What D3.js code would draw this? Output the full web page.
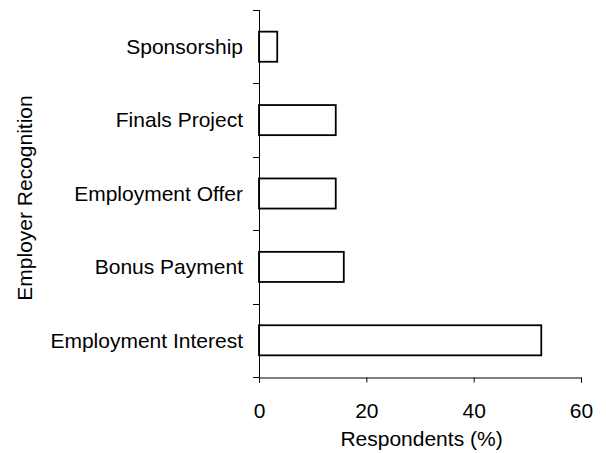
<!DOCTYPE html>
<html><head><meta charset="utf-8">
<script src="https://cdn.jsdelivr.net/npm/d3@7"></script>
<style>body{margin:0;background:#fff}svg{display:block}text{font-family:"Liberation Sans",Arial,sans-serif;fill:#000}</style>
</head><body>
<script>
const categories = ["Sponsorship","Finals Project","Employment Offer","Bonus Payment","Employment Interest"];
const values = [3.4, 14.3, 14.3, 15.8, 52.6];
const xTicks = [0, 20, 40, 60];

(function () {
const W = 606, H = 453;
const mLeft = 259, mRight = 581, mTop = 10, mBottom = 377;
const FS = 21;
const svg = d3.select("body").append("svg").attr("width", W).attr("height", H);

const x = d3.scaleLinear().domain([0, 60]).range([mLeft, mRight]);
const y = d3.scaleBand().domain(categories).range([mTop, mBottom]).paddingInner(0.59).paddingOuter(0.295);
const yb = d3.scaleBand().domain(categories).range([mTop, mBottom]);

// bars
svg.append("g").selectAll("rect").data(categories).join("rect")
  .attr("x", x(0)).attr("y", (d) => y(d))
  .attr("width", (d, i) => x(values[i]) - x(0)).attr("height", y.bandwidth())
  .attr("fill", "#fff").attr("stroke", "#000").attr("stroke-width", 1.8);

// y axis
const yAxisG = svg.append("g").attr("transform", `translate(${mLeft},0)`);
yAxisG.append("line").attr("x1", 0.5).attr("x2", 0.5).attr("y1", mTop).attr("y2", mBottom).attr("stroke", "#000");
const yTickPos = categories.map(c => yb(c)).concat([mBottom]);
yAxisG.selectAll("line.t").data(yTickPos).join("line").attr("class", "t")
  .attr("x1", -6).attr("x2", 0.5).attr("y1", d => Math.round(d) + 0.5).attr("y2", d => Math.round(d) + 0.5)
  .attr("stroke", "#000");
yAxisG.selectAll("text").data(categories).join("text")
  .attr("x", -16).attr("y", d => yb(d) + yb.bandwidth() / 2)
  .attr("dy", "0.35em").attr("text-anchor", "end").attr("font-size", FS).text(d => d);

// x axis
const xAxis = d3.axisBottom(x).tickValues(xTicks).tickSize(5).tickPadding(21);
const xg = svg.append("g").attr("transform", `translate(0,${mBottom + 0.5})`).call(xAxis);
xg.select(".domain").attr("stroke", "#000");
xg.selectAll(".tick line").attr("stroke", "#000");
xg.selectAll(".tick text").attr("font-size", FS).attr("font-family", '"Liberation Sans",Arial,sans-serif');

// titles
svg.append("text").attr("x", 421.5).attr("y", 446)
  .attr("text-anchor", "middle").attr("font-size", FS).text("Respondents (%)");
svg.append("text").attr("transform", `translate(32,198) rotate(-90)`)
  .attr("text-anchor", "middle").attr("font-size", FS).text("Employer Recognition");
})();
</script>
</body></html>
